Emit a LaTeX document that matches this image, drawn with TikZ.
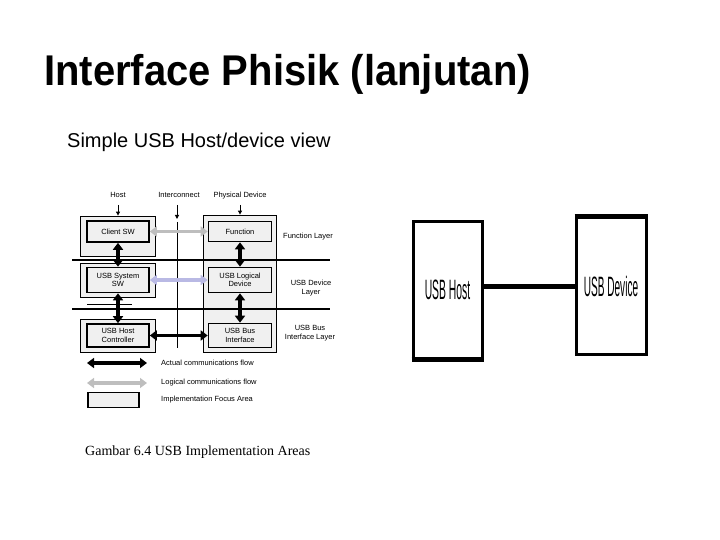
\documentclass[tikz,border=0pt]{standalone}
\usepackage{fontspec}
\setmainfont{Liberation Sans}
\newfontfamily\capfont{Liberation Serif}
\usetikzlibrary{arrows.meta,positioning}
\definecolor{areafill}{RGB}{240,240,240}
\definecolor{logicgray}{RGB}{190,190,190}
\definecolor{logiclav}{RGB}{185,185,228}
\tikzset{
  obox/.style={rectangle, draw=black, line width=0.8pt, fill=areafill, inner sep=0pt},
  ibox/.style={rectangle, draw=black, line width=1.6pt, fill=areafill,
    font=\fontsize{7.5}{8.5}\selectfont, align=center, inner sep=0pt},
  tlabel/.style={font=\fontsize{7.5}{8.5}\selectfont, align=center, inner sep=1pt},
  aflow/.style={{Triangle[length=7pt,width=10pt]}-{Triangle[length=7pt,width=10pt]}, line width=3.5pt},
  lflow/.style={aflow, draw=logicgray},
  tarrow/.style={-{Triangle[length=4pt,width=4pt]}, line width=1pt},
  layerline/.style={line width=1.2pt},
  bigbox/.style={rectangle, draw=black, line width=3pt, fill=white, inner sep=0pt}
}

\begin{document}
\begin{tikzpicture}[x=1pt,y=-1pt]
        \useasboundingbox (0,0) rectangle (720,540);
        % title
        \node[anchor=base west, inner sep=0pt, font=\fontsize{43}{48}\selectfont\bfseries] (title) at (44,86) {\scalebox{0.93}[1]{Interface Phisik (lanjutan)}};
        \node[anchor=base west, inner sep=0pt, font=\fontsize{20}{24}\selectfont] (sub) at (67,148) {Simple USB Host/device view};
        % focus areas
        \node[obox, minimum width=75pt, minimum height=40pt] (h1) at (117.5,236) {};
        \node[obox, minimum width=75pt, minimum height=34pt] (h2) at (117.5,280) {};
        \node[obox, minimum width=75pt, minimum height=33pt] (h3) at (117.5,335.5) {};
        \node[obox, minimum width=73pt, minimum height=137pt] (dv) at (239.5,283.5) {};
        % layers
        \node[ibox, minimum width=62pt, minimum height=21pt] (cli) at (118,231.5) {Client SW};
        \node[ibox, minimum width=62pt, minimum height=25pt] (sys) at (118,280) {USB System\\SW};
        \node[ibox, minimum width=62pt, minimum height=23pt] (hc) at (118,335.5) {USB Host\\Controller};
        \node[ibox, minimum width=63pt, minimum height=20pt] (fun) at (240,231.5) {Function};
        \node[ibox, minimum width=63pt, minimum height=25pt] (uld) at (240,280) {USB Logical\\Device};
        \node[ibox, minimum width=63pt, minimum height=24pt] (ubi) at (240,335.5) {USB Bus\\Interface};
        \draw[layerline] (72,260) -- (330,260);
        \draw[layerline] (72,309) -- (330,309);
        \draw[line width=0.6pt] (87,304) -- (132,304);
        \node[tlabel] (fl) at (308,237) {Function Layer};
        \node[tlabel] (dl) at (311,288) {USB Device\\Layer};
        \node[tlabel] (bl) at (310,333) {USB Bus\\Interface Layer};
        % columns
        \node[tlabel, anchor=base] (hostl) at (118,198) {Host};
        \node[tlabel, anchor=base] (icl) at (179,198) {Interconnect};
        \node[tlabel, anchor=base] (pdl) at (240,198) {Physical Device};
        \coordinate (ictop) at (177,219);
        \coordinate (icmid) at (177,222);
        \coordinate (icbot) at (177,348);
        \draw[tarrow] (118,205) -- (hostl.south |- h1.north);
        \draw[tarrow] (177,205) -- (ictop);
        \draw[line width=0.8pt] (icmid) -- (icbot);
        \draw[tarrow] (240,205) -- (pdl.south |- dv.north);
        % flows
        \draw[lflow] (cli) -- (fun);
        \draw[aflow, draw=logiclav] (sys) -- (uld);
        \draw[aflow] (hc) -- (ubi);
        \draw[aflow] (cli) -- (sys);\draw[aflow] (sys) -- (hc);
        \draw[aflow] (fun) -- (uld);\draw[aflow] (uld) -- (ubi);
        % legend
        \coordinate (lg1a) at (87,363);\coordinate (lg1b) at (147,363);
        \coordinate (lg2a) at (87,383);\coordinate (lg2b) at (147,383);
        \draw[aflow] (lg1a) -- (lg1b);
        \draw[lflow] (lg2a) -- (lg2b);
        \node[obox, minimum width=51pt, minimum height=15pt, line width=1.2pt] (lg3) at (113.5,400) {};
        \node[tlabel, anchor=west] (lg1t) at (160,363) {Actual communications flow};
        \node[tlabel, anchor=west] (lg2t) at (160,383) {Logical communications flow};
        \node[tlabel, anchor=west] (lg3t) at (160,400) {Implementation Focus Area};
        \node[anchor=base west, inner sep=0pt, font=\capfont\fontsize{14}{16}\selectfont] (cap) at (85,455) {Gambar 6.4 USB Implementation Areas};
        % simple view
        \node[bigbox, minimum width=69pt, minimum height=136pt] (usbh) at (447.5,290) {\fontsize{28}{30}\selectfont\scalebox{0.37}[1]{USB Host}};
        \node[bigbox, minimum width=70pt, minimum height=136pt] (usbd) at (611,286) {\fontsize{28}{30}\selectfont\scalebox{0.36}[1]{USB Device}};
        \draw[line width=5pt] (usbh.east |- usbd.west) -- (usbd.west);
        \draw[line width=5pt] (usbh.south west) -- (usbh.south east);
        \draw[line width=5pt] (usbd.north west) -- (usbd.north east);
      \end{tikzpicture}
\end{document}
